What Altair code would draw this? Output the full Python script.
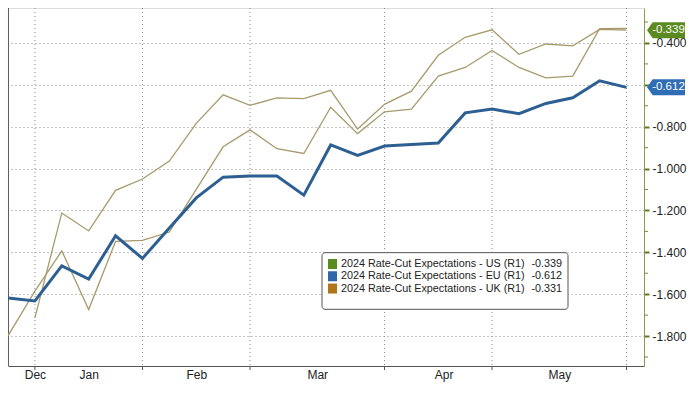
import altair as alt
import pandas as pd

# ---- data (weekly observations, index 0..23) ----
idx = list(range(24))
us = [None, -1.713, -1.212, -1.298, -1.104, -1.050, -0.964, -0.784, -0.648, -0.698,
      -0.662, -0.666, -0.626, -0.811, -0.693, -0.630, -0.459, -0.373, -0.337, -0.454,
      -0.405, -0.414, -0.335, -0.339]
uk = [-1.799, -1.585, -1.393, -1.673, -1.348, -1.343, -1.303, -1.099, -0.896, -0.815,
      -0.905, -0.928, -0.707, -0.833, -0.729, -0.716, -0.558, -0.517, -0.436, -0.517,
      -0.567, -0.558, -0.332, -0.331]
eu = [-1.618, -1.632, -1.465, -1.528, -1.321, -1.429, -1.284, -1.140, -1.041, -1.036,
      -1.036, -1.127, -0.887, -0.937, -0.892, -0.885, -0.878, -0.734, -0.716, -0.738,
      -0.689, -0.662, -0.581, -0.612]

month_labels = ["Dec", "Jan", "Feb", "Mar", "Apr", "May"]
month_label_pos = [1, 3, 7, 11.5, 16.2, 20.5]
month_bounds = [1, 5, 9, 14, 18, 23]

major_ticks = [-0.4, -0.6, -0.8, -1.0, -1.2, -1.4, -1.6, -1.8]
minor_ticks = [-0.3, -0.5, -0.7, -0.9, -1.1, -1.3, -1.5, -1.7, -1.9]

legend_names = ["2024 Rate-Cut Expectations - US (R1)",
                "2024 Rate-Cut Expectations - EU (R1)",
                "2024 Rate-Cut Expectations - UK (R1)"]
legend_values = ["-0.339", "-0.612", "-0.331"]
legend_colors = ["#5b8a1e", "#2f67a8", "#b0761c"]

tag_values = [-0.339, -0.612]
tag_texts = ["-0.339", "-0.612"]
tag_colors = ["#5b8a1e", "#2f6db5"]

# ---- layout ----
W, H = 636, 358
FONT = "Liberation Sans"
TAN = "#a89a6c"
BLUE = "#2d5f93"

rows = []
for name, vals in (("US", us), ("UK", uk), ("EU", eu)):
    for i, v in zip(idx, vals):
        if v is not None:
            rows.append({"i": i, "v": v, "s": name})
df = pd.DataFrame(rows)

xscale = alt.Scale(domain=[0, 23.65], nice=False, zero=False)
yscale = alt.Scale(domain=[-1.943, -0.233], nice=False, zero=False)

label_expr = ""
for p, lab in zip(month_label_pos, month_labels):
    label_expr += f"datum.value == {p} ? '{lab}' : "
label_expr += "''"

xaxis = alt.Axis(values=month_label_pos, labelExpr=label_expr, ticks=False, grid=False,
                 domainColor="#555555", labelFontSize=12, labelColor="#222222",
                 labelPadding=3, title=None, labelFont=FONT)
# the -0.600 label sits under the EU value tag in the reference
yaxis = alt.Axis(orient="right", values=major_ticks,
                 labelExpr="abs(datum.value + 0.6) < 0.001 ? '' : replace(format(datum.value, '.3f'), '\u2212', '-')",
                 tickColor="#5f7a22", tickSize=5, tickWidth=2, domainColor="#8a9a50",
                 grid=True, gridDash=[1, 3], gridColor="#8a8a8a", labelFontSize=12,
                 labelColor="#222222", labelPadding=3, title=None, labelFont=FONT)

X = alt.X("i:Q", scale=xscale, axis=xaxis)
Y = alt.Y("v:Q", scale=yscale, axis=yaxis)

base = alt.Chart(df)

vgrid = alt.Chart(pd.DataFrame({"i": month_bounds})).mark_rule(
    strokeDash=[1, 3], color="#8a8a8a", strokeWidth=1
).encode(x=X, y=alt.value(0), y2=alt.value(H))

xticks = alt.Chart(pd.DataFrame({"i": month_bounds})).mark_rule(
    color="#555555", strokeWidth=1
).encode(x=X, y=alt.value(H), y2=alt.value(H + 4))

left_edge = alt.Chart(pd.DataFrame({"a": [0]})).mark_rule(color="#6b5a5a", strokeWidth=1).encode(
    x=alt.value(0.5), y=alt.value(0), y2=alt.value(H))

tan_lines = base.transform_filter("datum.s != 'EU'").mark_line(
    color=TAN, strokeWidth=1.3
).encode(x=X, y=Y, detail="s:N")

blue_line = base.transform_filter("datum.s == 'EU'").mark_line(
    color=BLUE, strokeWidth=3
).encode(x=X, y=Y)

minor = alt.Chart(pd.DataFrame({"v": minor_ticks})).mark_rule(
    color="#7a8c3a", strokeWidth=1
).encode(y=Y, x=alt.value(W), x2=alt.value(W + 4))

# legend box (layout positions, relative to the plot origin at page x=8)
sy = H / 379.0
bx0, bx1, by0, by1 = 322 - 8, 568 - 8, 259 * sy, 319 * sy
one = pd.DataFrame({"a": [0]})
legend_layers = [
    alt.Chart(one).mark_rect(fill="white", stroke="#555555", strokeWidth=1, cornerRadius=3).encode(
        x=alt.value(bx0), x2=alt.value(bx1), y=alt.value(by0), y2=alt.value(by1))
]
row_y = [271 * sy, 284 * sy, 297 * sy]
for k in range(3):
    ry = row_y[k]
    legend_layers.append(
        alt.Chart(one).mark_rect(fill=legend_colors[k]).encode(
            x=alt.value(328 - 8), x2=alt.value(337 - 8),
            y=alt.value(ry - 5), y2=alt.value(ry + 5)))
    legend_layers.append(
        alt.Chart(one).mark_text(text=legend_names[k], align="left", baseline="middle",
                                 fontSize=10.8, font=FONT, color="#222222").encode(
            x=alt.value(341 - 8), y=alt.value(ry)))
    legend_layers.append(
        alt.Chart(one).mark_text(text=legend_values[k], align="right", baseline="middle",
                                 fontSize=10.8, font=FONT, color="#222222").encode(
            x=alt.value(562 - 8), y=alt.value(ry)))

# end-value tags
tag_df = pd.DataFrame({"v": tag_values, "t": tag_texts, "c": tag_colors})
tag_path = "M-1,0 L-0.7,-0.42 L1,-0.42 L1,0.42 L-0.7,0.42 Z"
tags = alt.Chart(tag_df).mark_point(filled=True, opacity=1, strokeWidth=0).encode(
    y=Y, x=alt.value(W + 22), color=alt.Color("c:N", scale=None, legend=None),
    shape=alt.value(tag_path), size=alt.value(1444))
tag_text = alt.Chart(tag_df).mark_text(color="white", fontSize=11.5, font=FONT,
                                       align="center", baseline="middle").encode(
    y=Y, x=alt.value(W + 24.5), text="t:N")

chart = alt.layer(
    vgrid, xticks, left_edge, tan_lines, blue_line, *legend_layers, minor, tags, tag_text
).properties(
    width=W, height=H,
    autosize=alt.AutoSizeParams(type="none"),
    padding={"left": 0, "top": 0, "right": 48, "bottom": 20},
).configure_view(stroke=None).configure(background="white")

chart.save("out.html", embed_options={"renderer": "svg", "actions": False})
